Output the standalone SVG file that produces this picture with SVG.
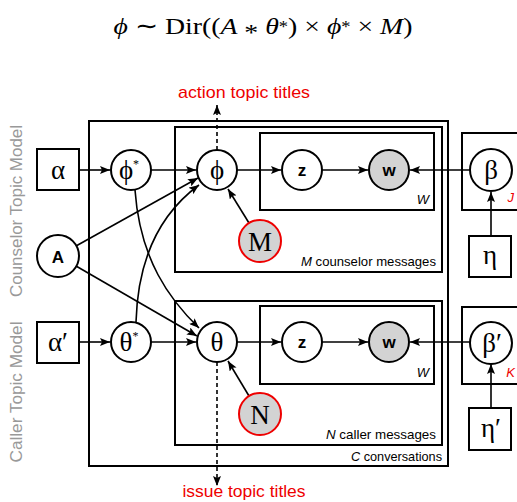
<svg xmlns="http://www.w3.org/2000/svg" width="517" height="502" viewBox="0 0 517 502">
<defs>
<marker id="ah" viewBox="0 0 10 8" refX="10" refY="4" markerWidth="10" markerHeight="8" markerUnits="userSpaceOnUse" orient="auto">
<path d="M0,0 L10,4 L0,8 L2,4 Z" fill="#000"/>
</marker>
<style>
.box{fill:none;stroke:#000;stroke-width:2}
.node{fill:#fff;stroke:#000;stroke-width:2}
.obs{fill:#d3d3d3;stroke:#000;stroke-width:2}
.red{fill:#d3d3d3;stroke:#e00;stroke-width:2}
.e{fill:none;stroke:#000;stroke-width:1.6;marker-end:url(#ah)}
.d{fill:none;stroke:#000;stroke-width:1.6;stroke-dasharray:4 3;marker-end:url(#ah)}
.g{font-family:"Liberation Serif",serif;font-size:27px;text-anchor:middle;fill:#000}
.s{font-family:"Liberation Sans",sans-serif;font-weight:bold;font-size:17px;text-anchor:middle;fill:#000}
.pl{font-family:"Liberation Sans",sans-serif;font-size:13px;text-anchor:end;fill:#000}
.rt{font-family:"Liberation Sans",sans-serif;font-size:17px;text-anchor:middle;fill:#e00}
.side{font-family:"Liberation Sans",sans-serif;font-size:16px;text-anchor:middle;fill:#999}
.sup{font-size:12px}
</style>
</defs>

<text x="263" y="34" font-family="Liberation Serif,serif" font-size="24" text-anchor="middle" textLength="299" lengthAdjust="spacingAndGlyphs"><tspan font-style="italic">ϕ</tspan> ∼ Dir((<tspan font-style="italic">A</tspan> <tspan dy="6">*</tspan><tspan dy="-6"> </tspan><tspan font-style="italic">θ</tspan><tspan font-size="16" dy="-2">*</tspan><tspan dy="2">) × </tspan><tspan font-style="italic">ϕ</tspan><tspan font-size="16" dy="-2">*</tspan><tspan dy="2"> × </tspan><tspan font-style="italic">M</tspan>)</text>

<text class="rt" x="244" y="98" textLength="132" lengthAdjust="spacingAndGlyphs">action topic titles</text>
<text class="rt" x="244" y="497" textLength="123" lengthAdjust="spacingAndGlyphs">issue topic titles</text>

<text class="side" transform="translate(22,211) rotate(-90)" textLength="172" lengthAdjust="spacingAndGlyphs">Counselor Topic Model</text>
<text class="side" transform="translate(22,392) rotate(-90)" textLength="141" lengthAdjust="spacingAndGlyphs">Caller Topic Model</text>

<g id="plates">
<rect class="box" x="89" y="121" width="359" height="345"/>
<rect class="box" x="175" y="127" width="267" height="145"/>
<rect class="box" x="260" y="133" width="174" height="77"/>
<rect class="box" x="175" y="301" width="267" height="144"/>
<rect class="box" x="260" y="306" width="174" height="78"/>
<rect class="box" x="462" y="133" width="60" height="77"/>
<rect class="box" x="462" y="307" width="60" height="77"/>
<text class="pl" x="429" y="204" font-style="italic">W</text>
<text class="pl" x="429" y="377" font-style="italic">W</text>
<text class="pl" x="436" y="266" textLength="135" lengthAdjust="spacingAndGlyphs"><tspan font-style="italic">M</tspan> counselor messages</text>
<text class="pl" x="436" y="439" textLength="110" lengthAdjust="spacingAndGlyphs"><tspan font-style="italic">N</tspan> caller messages</text>
<text class="pl" x="442" y="461" textLength="91" lengthAdjust="spacingAndGlyphs"><tspan font-style="italic">C</tspan> conversations</text>
<text class="pl" x="514" y="202" font-style="italic" style="fill:#e00">J</text>
<text class="pl" x="515" y="377" font-style="italic" style="fill:#e00">K</text>
</g>

<g id="connectors">
<line class="e" x1="79" y1="170" x2="110" y2="170"/>
<line class="e" x1="151" y1="170" x2="196" y2="170"/>
<line class="e" x1="76" y1="246" x2="198" y2="178"/>
<path class="e" d="M136,322 C138,250 165,210 199,185"/>
<path class="e" d="M135,190 C140,260 170,300 199,328"/>
<line class="e" x1="76" y1="266" x2="197" y2="336"/>
<line class="e" x1="79" y1="342" x2="110" y2="342"/>
<line class="e" x1="151" y1="342" x2="196" y2="342"/>
<line class="e" x1="249" y1="223" x2="228" y2="189"/>
<line class="e" x1="249" y1="396" x2="228" y2="361"/>
<line class="e" x1="237" y1="170" x2="281" y2="170"/>
<line class="e" x1="322" y1="170" x2="368" y2="170"/>
<line class="e" x1="470" y1="170" x2="410" y2="170"/>
<line class="e" x1="237" y1="342" x2="281" y2="342"/>
<line class="e" x1="322" y1="342" x2="368" y2="342"/>
<line class="e" x1="470" y1="342" x2="410" y2="342"/>
<line class="e" x1="491" y1="236" x2="491" y2="192"/>
<line class="e" x1="491" y1="408" x2="491" y2="364"/>
<line class="d" x1="217" y1="150" x2="217" y2="105"/>
<line class="d" x1="217" y1="362" x2="217" y2="486"/>
</g>

<g id="alpha"><rect class="box" x="37" y="149" width="42" height="41" style="fill:#fff"/><text class="g" x="58" y="179">α</text></g>
<g id="phistar"><circle class="node" cx="131" cy="170" r="20"/><text class="g" x="129" y="179">ϕ<tspan class="sup" dy="-11">*</tspan></text></g>
<g id="phi"><circle class="node" cx="217" cy="170" r="20"/><text class="g" x="217" y="179">ϕ</text></g>
<g id="A"><circle class="node" cx="58" cy="256" r="21"/><text class="s" x="58" y="263">A</text></g>
<g id="M"><circle class="red" cx="260" cy="241" r="21"/><text class="g" x="260" y="251">M</text></g>
<g id="z1"><circle class="node" cx="302" cy="170" r="20"/><text class="s" x="302" y="176">z</text></g>
<g id="w1"><circle class="obs" cx="389" cy="170" r="20"/><text class="s" x="389" y="176">w</text></g>
<g id="beta"><circle class="node" cx="491" cy="170" r="21"/><text class="g" x="491" y="179">β</text></g>
<g id="eta"><rect class="box" x="469" y="236" width="42" height="41" style="fill:#fff"/><text class="g" x="490" y="264">η</text></g>

<g id="alphap"><rect class="box" x="37" y="322" width="42" height="41" style="fill:#fff"/><text class="g" x="58" y="351">α′</text></g>
<g id="thetastar"><circle class="node" cx="131" cy="342" r="20"/><text class="g" x="129" y="351">θ<tspan class="sup" dy="-11">*</tspan></text></g>
<g id="theta"><circle class="node" cx="217" cy="342" r="20"/><text class="g" x="217" y="351">θ</text></g>
<g id="N"><circle class="red" cx="260" cy="414" r="21"/><text class="g" x="260" y="424">N</text></g>
<g id="z2"><circle class="node" cx="302" cy="342" r="20"/><text class="s" x="302" y="348">z</text></g>
<g id="w2"><circle class="obs" cx="389" cy="342" r="20"/><text class="s" x="389" y="348">w</text></g>
<g id="betap"><circle class="node" cx="491" cy="343" r="21"/><text class="g" x="492" y="352">β′</text></g>
<g id="etap"><rect class="box" x="469" y="408" width="42" height="42" style="fill:#fff"/><text class="g" x="491" y="437">η′</text></g>
</svg>
